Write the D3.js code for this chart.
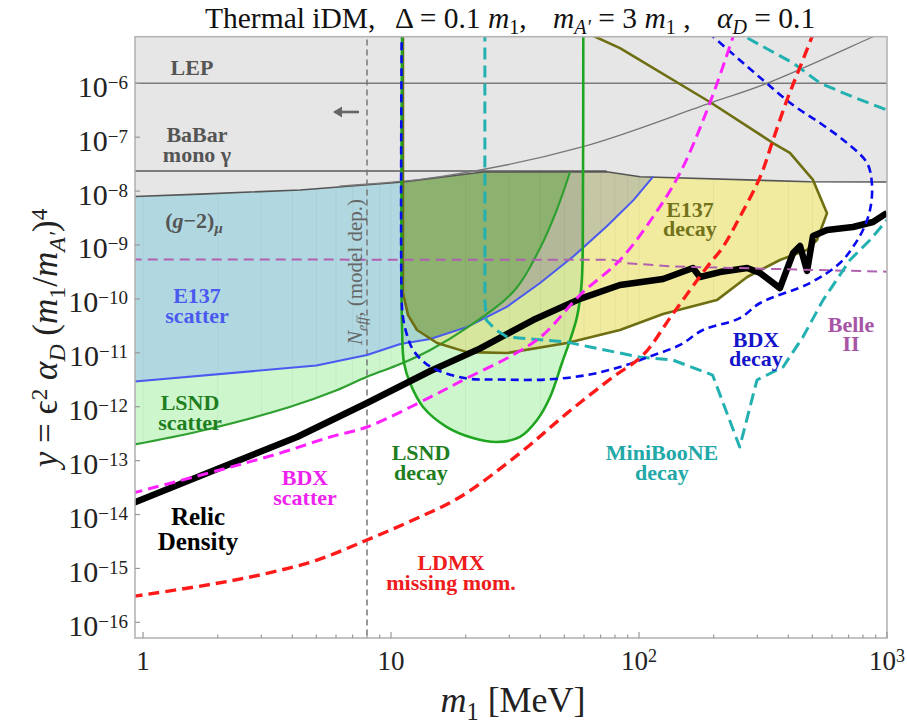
<!DOCTYPE html>
<html>
<head>
<meta charset="utf-8">
<script src="https://cdn.jsdelivr.net/npm/d3@7"></script>
<style>
body { margin: 0; background: #fff; }
text { font-family: "Liberation Serif", "Times New Roman", serif; }
</style>
</head>
<body>
<svg id="chart" width="907" height="728"></svg>
<script>
// curves, each point is [m1 in MeV, y]
var lepY = 1e-6;
var babar = [[0.9, 2.35e-8], [74, 2.35e-8]];
var grayEdge = [[0.9, 7.9e-9], [1.7, 8.8e-9], [4.3, 1.05e-8], [11.2, 1.48e-8], [23.5, 2.26e-8],
    [74, 2.29e-8], [101, 1.85e-8], [488, 1.49e-8], [1000, 1.48e-8]];
var grayDiag = [[6.2, 1.24e-8], [15.8, 1.85e-8], [59.5, 6.7e-8], [193, 4.3e-7], [328, 1e-6],
    [878, 7.3e-6], [1000, 9.5e-6]];
var e137Scatter = [[0.9, 2.9e-12], [5.0, 5.8e-12], [8.0, 9.1e-12], [10.9, 1.46e-11], [14.4, 1.8e-11],
    [20.2, 3.0e-11], [29.3, 7.1e-11], [39.9, 1.97e-10], [54.3, 6.1e-10], [74, 2.2e-9],
    [95, 6.8e-9], [114, 1.85e-8]];
var lsndScatter = [[0.9, 1.95e-13], [1.7, 3.55e-13], [3.9, 9.9e-13], [6.0, 2.0e-12], [8.0, 3.6e-12],
    [10.9, 6.2e-12], [14.4, 1.13e-11], [20.2, 2.9e-11], [31.3, 1.4e-10], [39.9, 8.8e-10],
    [46.6, 4.5e-9], [52.7, 2.26e-8]];
var lsndDecay = [[11.08, 1e-5], [11.08, 2.65e-11], [11.28, 6.5e-12], [11.93, 2.74e-12], [13.46, 9.9e-13],
    [16.8, 4.2e-13], [21.4, 2.63e-13], [26.7, 2.21e-13], [33.1, 2.75e-13], [38.8, 5.66e-13],
    [43.8, 1.51e-12], [48.9, 6.46e-12], [52.7, 1.72e-11], [56.2, 4.6e-11], [58.7, 1.97e-10],
    [59.4, 6.8e-9], [59.6, 1e-5]];
var e137Decay = [[11.17, 1e-5], [11.17, 1.29e-10], [11.71, 5.0e-11], [12.73, 2.65e-11], [15.33, 1.52e-11],
    [20.25, 1.03e-11], [29.4, 9.9e-12], [51.3, 1.52e-11], [83.8, 2.65e-11], [125, 5.25e-11],
    [206, 9.5e-11], [273, 2.55e-10], [370, 5.27e-10], [476, 8.1e-10], [522, 1.24e-9],
    [573, 3.9e-9], [503, 1.61e-8], [406, 5.1e-8], [347, 7.8e-8], [193, 4.5e-7],
    [83.8, 4.5e-6], [57.3, 1e-5]];
var bdxDecay = [[11.04, 1e-5], [11.04, 9.5e-11], [11.17, 4.6e-11], [11.6, 2.14e-11], [12.27, 1.13e-11],
    [13.71, 6.5e-12], [15.33, 4.8e-12], [20.25, 3.33e-12], [26.7, 3.2e-12], [42.6, 3.2e-12],
    [61.7, 3.87e-12], [83.8, 5.45e-12], [107.7, 8.2e-12], [146.3, 1.4e-11], [181, 2.65e-11],
    [255, 4.4e-11], [308, 8.4e-11], [489, 1.97e-10], [646, 4.63e-10], [729, 9.2e-10],
    [800, 1.9e-9], [854, 4.47e-9], [870, 1.3e-8], [831, 3.32e-8], [690, 7.8e-8],
    [537, 1.83e-7], [418, 3.95e-7], [316, 1.15e-6], [184, 1e-5]];
var miniBooNE = [[23.9, 1e-5], [23.9, 9.5e-11], [24.2, 4.07e-11], [26.5, 2.65e-11], [29.4, 1.96e-11],
    [51.3, 1.58e-11], [63.5, 1.28e-11], [100.6, 8.36e-12], [136.8, 7.35e-12], [198, 3.87e-12],
    [254.7, 1.79e-13], [299, 3.13e-12], [381, 5.45e-12], [458, 1.96e-11], [552, 9.5e-11],
    [709, 5.27e-10], [854, 1.24e-9], [1000, 2.91e-9]];
var miniBooNEUpper = [[236.5, 1e-5], [418, 2.38e-6], [537, 1.01e-6], [729, 5.57e-7], [1000, 3.2e-7]];
var bdxScatter = [[0.9, 2.47e-14], [2.04, 6.7e-14], [3.57, 1.38e-13], [5.68, 2.74e-13], [8.0, 4.2e-13],
    [14.4, 1.51e-12], [20.25, 3.4e-12], [31.0, 9.1e-12], [41.0, 2.14e-11], [57.8, 1.18e-10],
    [83.8, 5.27e-10], [113.8, 3.31e-9], [146.3, 2.17e-8], [193, 4.3e-7], [245, 1e-5]];
var ldmx = [[0.9, 3.0e-16], [1.99, 5.3e-16], [3.16, 8.1e-16], [5.03, 1.43e-15], [8.0, 3.37e-15],
    [12.27, 7.9e-15], [18.97, 2.11e-14], [33.1, 1.38e-13], [51.3, 7.6e-13], [78.6, 3.56e-12],
    [103.8, 9.1e-12], [136.8, 5.25e-11], [188, 3.91e-10], [218, 9.2e-10], [255, 3.31e-9],
    [308, 1.83e-8], [347, 8.87e-8], [395, 4.9e-7], [446, 2.0e-6], [512, 1e-5]];
var belle = [[0.9, 5.4e-10], [78.6, 5.3e-10], [89.4, 4.6e-10], [136.8, 4.0e-10], [347, 3.6e-10], [1000, 3.2e-10]];
var relic = [[0.9, 1.6e-14], [2.04, 7.3e-14], [4.18, 2.74e-13], [8.0, 1.17e-12], [14.4, 4.6e-12],
    [22.9, 1.21e-11], [37.4, 4.06e-11], [57.8, 1.0e-10], [83.8, 1.81e-10], [125, 2.34e-10],
    [165, 3.74e-10], [176, 2.55e-10], [212, 3.15e-10], [273, 3.74e-10], [308, 3.02e-10],
    [370, 1.59e-10], [418, 7.1e-10], [446, 9.6e-10], [476, 3.3e-10], [503, 1.47e-9],
    [573, 1.9e-9], [729, 2.16e-9], [878, 2.67e-9], [1000, 3.93e-9]];
var neffM = 8.0;

var xTicks = [1, 10, 100, 1000];
var xTickExp = ["", "", "2", "3"];
var yTicks = [-6, -7, -8, -9, -10, -11, -12, -13, -14, -15, -16];

var plotL = 135, plotR = 887, plotT = 36.7, plotB = 638;
var x = d3.scaleLog().domain([0.928, 1000]).range([plotL, plotR]);
var y = d3.scaleLog().domain([5.12e-17, 7.32e-6]).range([plotB, plotT]);

var svg = d3.select("#chart");
var defs = svg.append("defs");

var straight = d3.line().x(d => x(d[0])).y(d => y(d[1]));
var smooth = d3.line().x(d => x(d[0])).y(d => y(d[1])).curve(d3.curveCatmullRom.alpha(0.5));

function closeTop(pts) {
    var last = pts[pts.length - 1];
    return pts.concat([[last[0], 1e-5], [0.8, 1e-5]]);
}

var scatterPath = straight(closeTop(lsndScatter)) + "Z";
var bluePath = straight(closeTop(e137Scatter)) + "Z";
var decayPath = smooth(lsndDecay) + "Z";
var yellowPath = straight(e137Decay) + "Z";
var grayPath = straight(grayEdge.concat([[1100, 1e-5], [0.8, 1e-5]])) + "Z";

defs.append("clipPath").attr("id", "plotClip").append("rect")
    .attr("x", plotL).attr("y", plotT).attr("width", plotR - plotL).attr("height", plotB - plotT);
[["clipBlue", bluePath], ["clipDecay", decayPath], ["clipScatter", scatterPath], ["clipYellow", yellowPath]]
    .forEach(function(c) {
        defs.append("clipPath").attr("id", c[0]).append("path").attr("d", c[1]);
    });
var union = defs.append("clipPath").attr("id", "clipAny");
[scatterPath, decayPath, bluePath, yellowPath].forEach(d => union.append("path").attr("d", d));

var plot = svg.append("g").attr("clip-path", "url(#plotClip)");

// filled regions, overlaps get their own tint
plot.append("path").attr("d", scatterPath).attr("fill", "#cdf6cd");
plot.append("path").attr("d", decayPath).attr("fill", "#cdf6cd");
plot.append("path").attr("d", bluePath).attr("fill", "#b1d8e1");
plot.append("g").attr("clip-path", "url(#clipBlue)")
    .append("path").attr("d", decayPath).attr("fill", "#a8d7cf");
plot.append("path").attr("d", yellowPath).attr("fill", "#f0eb9f");
var gy = plot.append("g").attr("clip-path", "url(#clipYellow)");
gy.append("path").attr("d", decayPath).attr("fill", "#d6e69c");
var gyb = gy.append("g").attr("clip-path", "url(#clipBlue)");
gyb.append("path").attr("d", bluePath).attr("fill", "#c4c6a4");
var gybd = gyb.append("g").attr("clip-path", "url(#clipDecay)");
gybd.append("path").attr("d", bluePath).attr("fill", "#b3b898");
gybd.append("g").attr("clip-path", "url(#clipScatter)")
    .append("path").attr("d", bluePath).attr("fill", "#8db26f");

// faint mesh lines inside the shaded areas
var minor = [];
[1, 10, 100].forEach(function(b) { for (var k = 1; k < 10; k++) minor.push(b * k); });
plot.append("g").attr("clip-path", "url(#clipAny)")
    .selectAll("line").data(minor).enter().append("line")
    .attr("x1", d => x(d)).attr("x2", d => x(d)).attr("y1", plotT).attr("y2", plotB)
    .attr("stroke", "#000").attr("stroke-opacity", 0.045);

plot.append("path").attr("d", grayPath).attr("fill", "#e6e6e6");

function draw(pts, gen, color, width, dash) {
    var p = plot.append("path").attr("d", gen(pts)).attr("fill", "none")
        .attr("stroke", color).attr("stroke-width", width).attr("stroke-linejoin", "round");
    if (dash) p.attr("stroke-dasharray", dash);
    return p;
}

draw([[0.8, lepY], [1100, lepY]], straight, "#7a7a7a", 1.6);
draw(babar, straight, "#5a5a5a", 1.5);
draw(grayEdge, straight, "#555", 1.6);
draw(grayDiag, smooth, "#777", 1.3);
draw([[neffM, 1e-5], [neffM, 1e-17]], straight, "#777", 1.5, "6,4");
draw(e137Scatter, straight, "#4a5af0", 2);
draw(lsndScatter, smooth, "#2f9f2f", 2.2);
draw(e137Decay, straight, "#6e6e12", 2.6);
draw(lsndDecay, smooth, "#1fa51f", 2.6);
draw(relic, straight, "#000", 6.5);
draw(belle, straight, "#b060b0", 2, "10,6");
draw(miniBooNE, straight, "#22b0b0", 3, "12,6");
draw(miniBooNEUpper, straight, "#22b0b0", 3, "12,6");
draw(bdxDecay, smooth, "#0a0aee", 2.6, "8,5");
draw(bdxScatter, smooth, "#ff22ff", 3, "11,6");
draw(ldmx, smooth, "#ff1a1a", 3.4, "11,6");

// frame and ticks
svg.append("rect").attr("x", plotL).attr("y", plotT).attr("width", plotR - plotL).attr("height", plotB - plotT)
    .attr("fill", "none").attr("stroke", "#b5b5b5").attr("stroke-width", 1.6);
var ticks = svg.append("g").attr("stroke", "#999").attr("stroke-width", 1.2);
minor.concat([1000]).forEach(function(v) {
    var major = xTicks.indexOf(v) >= 0;
    ticks.append("line").attr("x1", x(v)).attr("x2", x(v))
        .attr("y1", plotB).attr("y2", plotB - (major ? 6 : 3.5));
});
yTicks.forEach(function(e) {
    ticks.append("line").attr("x1", plotL).attr("x2", plotL + 5)
        .attr("y1", y(Math.pow(10, e))).attr("y2", y(Math.pow(10, e)));
});

// rich text helper: parts are {t, i, sup, sub, x}
function rich(t, parts, fs) {
    var shift = 0;
    parts.forEach(function(p) {
        var s = t.append("tspan").text(p.t);
        var target = 0, size = fs;
        if (p.sup) { target = -0.3 * fs; size = fs * 0.66; }
        if (p.sub) { target = 0.22 * fs; size = fs * 0.68; }
        s.attr("dy", target - shift).style("font-size", size + "px");
        if (p.i) s.style("font-style", "italic");
        if (p.x != null) s.attr("x", p.x);
        shift = target;
    });
    return t;
}

yTicks.forEach(function(e) {
    var t = svg.append("text").attr("x", 128).attr("y", y(Math.pow(10, e)) + 13.4)
        .attr("text-anchor", "end").style("font-size", "30px").attr("fill", "#222");
    t.append("tspan").text("10");
    t.append("tspan").text("\u2212" + (-e)).attr("dy", -8).style("font-size", "19px");
});
xTicks.forEach(function(v, i) {
    var t = svg.append("text").attr("x", x(v)).attr("y", 670)
        .attr("text-anchor", "middle").style("font-size", "27px").attr("fill", "#222");
    t.append("tspan").text(v === 1 ? "1" : "10");
    if (xTickExp[i]) t.append("tspan").text(xTickExp[i]).attr("dy", -8.5).style("font-size", "18px");
});

// title
rich(svg.append("text").attr("y", 28).style("font-size", "29.5px").attr("fill", "#111"), [
    { t: "Thermal iDM,", x: 205 },
    { t: "\u0394 = 0.1 ", x: 395 }, { t: "m", i: 1 }, { t: "1", sub: 1 }, { t: "," },
    { t: "m", i: 1, x: 553 }, { t: "A\u2032", i: 1, sub: 1 }, { t: " = 3 " }, { t: "m", i: 1 }, { t: "1", sub: 1 }, { t: " ," },
    { t: "\u03b1", i: 1, x: 717 }, { t: "D", i: 1, sub: 1 }, { t: " = 0.1" }
], 29.5);

// axis titles
rich(svg.append("text").attr("x", 513).attr("y", 712).attr("text-anchor", "middle")
    .style("font-size", "36px").attr("fill", "#222"), [
    { t: "m", i: 1 }, { t: "1", sub: 1 }, { t: " [MeV]" }
], 36);
rich(svg.append("text").attr("transform", "translate(57,338) rotate(-90)").attr("text-anchor", "middle")
    .style("font-size", "35px").attr("fill", "#222"), [
    { t: "y", i: 1 }, { t: " = \u03f5" }, { t: "2", sup: 1 }, { t: " " }, { t: "\u03b1", i: 1 }, { t: "D", i: 1, sub: 1 },
    { t: " (" }, { t: "m", i: 1 }, { t: "1", sub: 1 }, { t: "/" }, { t: "m", i: 1 }, { t: "A\u2032", i: 1, sub: 1 },
    { t: ")" }, { t: "4", sup: 1 }
], 35);

// Neff annotation
rich(svg.append("text").attr("transform", "translate(362,272) rotate(-90)").attr("text-anchor", "middle")
    .style("font-size", "21px").attr("fill", "#666"), [
    { t: "N", i: 1 }, { t: "eff", i: 1, sub: 1 }, { t: ", (model dep.)" }
], 21);
var ax = x(neffM);
svg.append("path").attr("d", "M" + (ax - 8) + ",112H" + (ax - 32))
    .attr("stroke", "#666").attr("stroke-width", 2.6);
svg.append("path").attr("d", "M" + (ax - 34) + ",112 l9,-5.5 v11 z").attr("fill", "#666");

// region labels, one text element per label with stacked lines
var labels = [
    { lines: ["LEP"], cx: 192, by: 75, c: "#555", fs: 22 },
    { lines: ["BaBar", "mono \u03b3"], cx: 197, by: 142, c: "#555", fs: 22 },
    { lines: ["E137", "scatter"], cx: 197, by: 303, c: "#4a5af0", fs: 22 },
    { lines: ["LSND", "scatter"], cx: 190, by: 410, c: "#1f7f1f", fs: 22 },
    { lines: ["BDX", "scatter"], cx: 305, by: 485, c: "#ee22ee", fs: 22 },
    { lines: ["Relic", "Density"], cx: 198, by: 525, c: "#000", fs: 25, gap: 25 },
    { lines: ["LSND", "decay"], cx: 421, by: 460, c: "#1f7f1f", fs: 22 },
    { lines: ["E137", "decay"], cx: 690, by: 216.7, c: "#72721a", fs: 22 },
    { lines: ["MiniBooNE", "decay"], cx: 662, by: 460, c: "#22a8a8", fs: 22 },
    { lines: ["BDX", "decay"], cx: 756, by: 346.7, c: "#1414c8", fs: 22 },
    { lines: ["Belle", "II"], cx: 851, by: 331.7, c: "#a655a6", fs: 22 },
    { lines: ["LDMX", "missing mom."], cx: 451, by: 570, c: "#ee1c1c", fs: 22 }
];
labels.forEach(function(l) {
    var t = svg.append("text").attr("x", l.cx).attr("y", l.by)
        .attr("text-anchor", "middle").style("font-size", l.fs + "px").style("font-weight", "bold")
        .attr("fill", l.c);
    l.lines.forEach(function(s, i) {
        t.append("tspan").attr("x", l.cx).attr("dy", i ? (l.gap || 19.5) : 0).text(s);
    });
});
rich(svg.append("text").attr("x", 194).attr("y", 228).attr("text-anchor", "middle")
    .style("font-size", "22px").style("font-weight", "bold").attr("fill", "#555"), [
    { t: "(" }, { t: "g", i: 1 }, { t: "\u22122)" }, { t: "\u03bc", i: 1, sub: 1 }
], 22);
</script>
</body>
</html>
